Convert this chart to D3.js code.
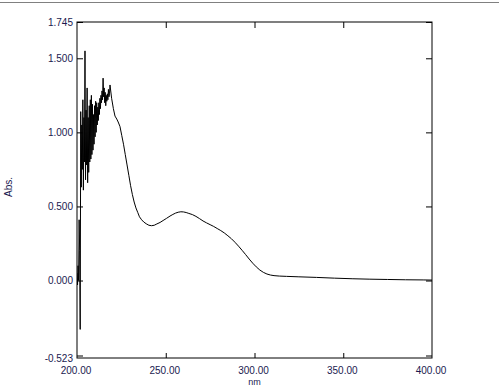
<!DOCTYPE html>
<html>
<head>
<meta charset="utf-8">
<script src="https://cdn.jsdelivr.net/npm/d3@7"></script>
<style>
  html, body { margin: 0; padding: 0; background: #fff; }
  svg { display: block; }
  text { font-family: "Liberation Sans", Arial, sans-serif; }
</style>
</head>
<body>
<svg id="chart" width="499" height="386"></svg>
<script>
// ---- data ----
const wavelength = [
  200.0,200.3,200.6,200.9,201.2,201.5,201.8,202.1,202.4,202.7,203.0,203.3,203.6,203.9,204.2,204.5,
  204.8,205.1,205.4,205.7,206.0,206.3,206.6,206.9,207.2,207.5,207.8,208.1,208.4,208.7,209.0,209.3,
  209.6,209.9,210.2,210.5,210.8,211.1,211.4,211.7,212.0,212.3,212.6,212.9,213.2,213.5,213.8,214.1,
  214.4,214.7,215.0,215.3,215.6,215.9,216.2,216.5,216.8,217.1,217.4,217.7,218.0,218.3,218.6,
  219.5,220.5,221.4,222.4,223.2,224.2,225.2,226.2,227.2,228.2,229.2,230.2,231.2,232.2,233.2,234.2,
  235.2,236.4,237.6,239.0,240.5,242.0,243.5,245.0,246.8,248.5,250.5,252.4,254.0,255.5,257.0,258.5,
  260.0,261.5,263.0,265.0,267.0,269.0,271.0,273.0,275.0,277.0,279.0,281.0,283.0,285.0,287.0,289.0,
  291.0,293.0,295.0,297.0,299.0,301.0,303.0,305.0,307.0,309.0,311.0,314.0,318.0,325.0,335.0,345.0,
  355.0,365.0,375.0,385.0,395.0,400.0
];
const absorbance = [
  0.05,-0.03,0.10,0.00,0.41,0.20,-0.33,1.14,0.63,1.05,0.75,1.22,0.61,1.10,0.80,1.55,
  0.68,1.15,0.78,1.30,0.66,1.10,0.73,1.18,0.80,1.22,0.82,1.25,0.85,1.19,0.88,1.12,
  0.92,1.18,0.97,1.21,1.00,1.20,1.05,1.17,1.08,1.20,1.12,1.23,1.16,1.25,1.20,1.28,
  1.22,1.366,1.24,1.30,1.20,1.27,1.18,1.25,1.21,1.26,1.22,1.29,1.24,1.26,1.32,
  1.23,1.16,1.11,1.09,1.07,1.04,0.98,0.92,0.85,0.78,0.71,0.64,0.58,0.53,0.49,0.46,
  0.43,0.41,0.395,0.383,0.373,0.370,0.373,0.382,0.392,0.405,0.420,0.435,0.446,0.455,0.461,0.464,
  0.463,0.459,0.453,0.445,0.433,0.418,0.402,0.389,0.377,0.365,0.351,0.337,0.321,0.302,0.282,0.258,
  0.232,0.204,0.175,0.145,0.117,0.092,0.071,0.055,0.044,0.037,0.033,0.030,0.028,0.025,0.021,0.016,
  0.012,0.009,0.007,0.005,0.004,0.003
];
const xTicks = [200, 250, 300, 350, 400];
const xTickLabels = ["200.00", "250.00", "300.00", "350.00", "400.00"];
const yTicks = [1.745, 1.5, 1.0, 0.5, 0.0, -0.523];
const yTickLabels = ["1.745", "1.500", "1.000", "0.500", "0.000", "-0.523"];
const xTitle = "nm";
const yTitle = "Abs.";

// ---- layout ----
const svg = d3.select("#chart");
const W = 499, H = 386;
const mLeft = 77, mRight = 432, mTop = 22, mBottom = 358;
const textColor = "#1a1a50";

const x = d3.scaleLinear().domain([200, 400]).range([mLeft, mRight]);
const y = d3.scaleLinear().domain([-0.523, 1.745]).range([mBottom, mTop]);

// top separator line
svg.append("line")
  .attr("x1", 0).attr("x2", W).attr("y1", 2.5).attr("y2", 2.5)
  .attr("stroke", "#808080").attr("stroke-width", 1);

// clip
svg.append("clipPath").attr("id", "clip")
  .append("rect").attr("x", mLeft).attr("y", mTop)
  .attr("width", mRight - mLeft).attr("height", mBottom - mTop);

// data line
const line = d3.line().x((d, i) => x(wavelength[i])).y(d => y(d));
svg.append("path")
  .datum(absorbance)
  .attr("clip-path", "url(#clip)")
  .attr("fill", "none")
  .attr("stroke", "#000")
  .attr("stroke-width", 1)
  .attr("stroke-linejoin", "miter")
  .attr("d", line);

function styleAxis(g) {
  g.select(".domain").remove();
  g.selectAll(".tick line").attr("stroke", "#000").attr("stroke-width", 1);
  g.selectAll(".tick text")
    .attr("fill", textColor)
    .style("font-family", '"Liberation Sans", Arial, sans-serif')
    .style("font-size", "10px");
}

// left axis
const gl = svg.append("g").attr("transform", `translate(${mLeft},0)`)
  .call(d3.axisLeft(y).tickValues(yTicks).tickSize(-6).tickPadding(4)
    .tickFormat((d, i) => yTickLabels[i]));
styleAxis(gl);
gl.selectAll(".tick").filter(d => d === -0.523).select("line").attr("transform", "translate(0,-2.5)");

// right axis (ticks only)
const gr = svg.append("g").attr("transform", `translate(${mRight},0)`)
  .call(d3.axisRight(y).tickValues(yTicks).tickSize(-6).tickFormat(""));
styleAxis(gr);
gr.selectAll(".tick").filter(d => d === -0.523).select("line").attr("transform", "translate(0,-2.5)");

// bottom axis
const gb = svg.append("g").attr("transform", `translate(0,${mBottom})`)
  .call(d3.axisBottom(x).tickValues(xTicks).tickSize(-5).tickPadding(9)
    .tickFormat((d, i) => xTickLabels[i]));
styleAxis(gb);
gb.selectAll(".tick text").attr("dx", "-1.5");
gb.selectAll(".tick").filter(d => d === 200 || d === 400).select("line").remove();

// top axis (ticks only)
const gt = svg.append("g").attr("transform", `translate(0,${mTop})`)
  .call(d3.axisTop(x).tickValues(xTicks).tickSize(-6).tickFormat(""));
styleAxis(gt);
gt.selectAll(".tick").filter(d => d === 200 || d === 400).select("line").remove();

// frame
svg.append("rect")
  .attr("x", mLeft).attr("y", mTop)
  .attr("width", mRight - mLeft).attr("height", mBottom - mTop)
  .attr("fill", "none").attr("stroke", "#000").attr("stroke-width", 1);

// axis titles
svg.append("text")
  .attr("x", (mLeft + mRight) / 2).attr("y", 385)
  .attr("text-anchor", "middle")
  .attr("fill", textColor)
  .style("font-size", "9px")
  .text(xTitle);

svg.append("text")
  .attr("transform", `translate(12,187) rotate(-90)`)
  .attr("text-anchor", "middle")
  .attr("fill", textColor)
  .style("font-size", "10px")
  .text(yTitle);
</script>
</body>
</html>
